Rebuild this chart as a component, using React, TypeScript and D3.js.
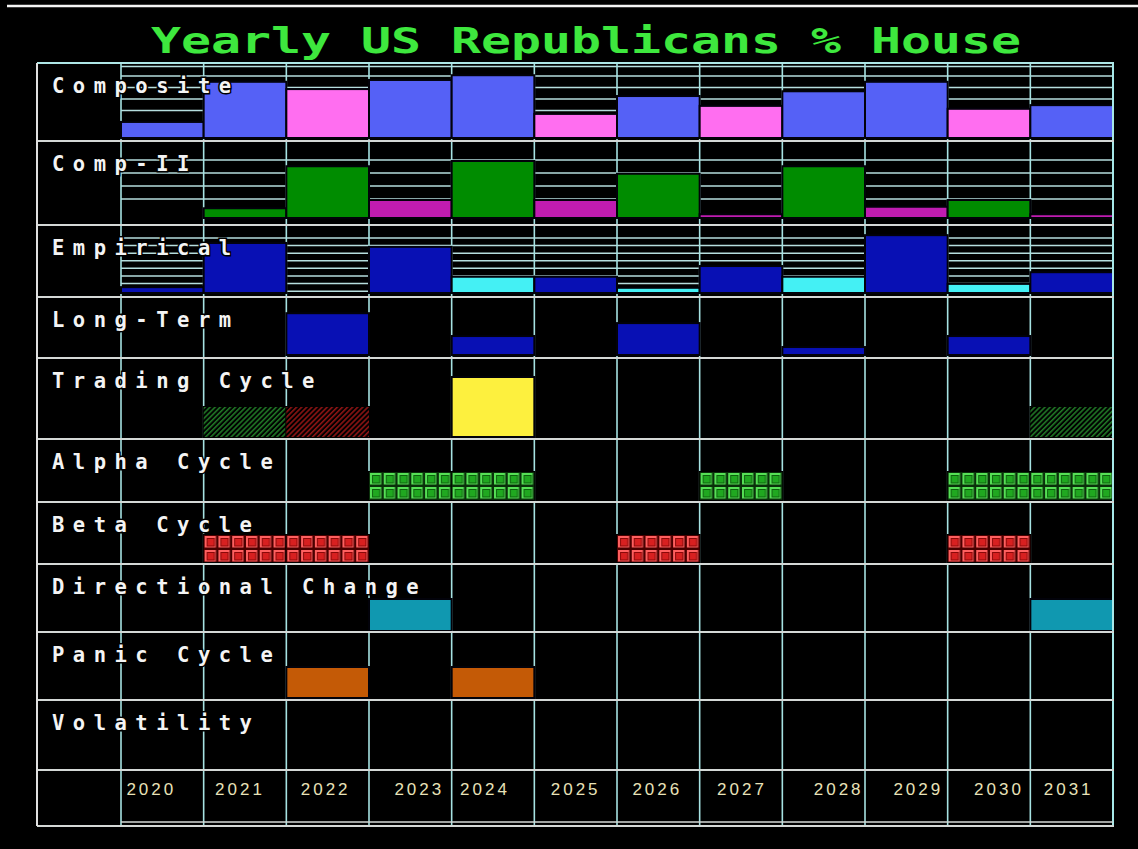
import React from 'react';
import * as d3 from 'd3';

const title = 'Yearly US Republicans % House';
const years = ['2020', '2021', '2022', '2023', '2024', '2025', '2026', '2027', '2028', '2029', '2030', '2031'];
const rowLabels = ['Composite', 'Comp-II', 'Empirical', 'Long-Term', 'Trading Cycle', 'Alpha Cycle', 'Beta Cycle', 'Directional Change', 'Panic Cycle', 'Volatility'];

const compositeValues = [22, 77, 67, 79.5, 86, 33, 57.5, 44, 64, 77, 40, 45];
const compositeSign = ['up', 'up', 'down', 'up', 'up', 'down', 'up', 'down', 'up', 'up', 'down', 'up'];
const compIIValues = [0, 13, 69, 24, 76, 24, 59, 5, 69, 15, 24, 5];
const compIISign = ['up', 'up', 'up', 'down', 'up', 'down', 'up', 'down', 'up', 'down', 'up', 'down'];
const empiricalValues = [9, 77, 0, 71, 25, 25, 8, 41.5, 25, 89, 14, 32];
const empiricalSign = ['up', 'up', 'up', 'up', 'down', 'up', 'down', 'up', 'down', 'up', 'down', 'up'];
const longTermValues = [0, 0, 76, 0, 34.5, 0, 58, 0, 14.5, 0, 34.5, 0];
const tradingValues = [0, 1, 1, 0, 2, 0, 0, 0, 0, 0, 0, 1];
const tradingKinds = ['none', 'bull', 'bear', 'none', 'peak', 'none', 'none', 'none', 'none', 'none', 'none', 'bull'];
const alphaValues = [0, 0, 0, 1, 1, 0, 0, 1, 0, 0, 1, 1];
const betaValues = [0, 1, 1, 0, 0, 0, 1, 0, 0, 0, 1, 0];
const directionalValues = [0, 0, 0, 1, 0, 0, 0, 0, 0, 0, 0, 1];
const panicValues = [0, 0, 1, 0, 1, 0, 0, 0, 0, 0, 0, 0];
const volatilityValues = [0, 0, 0, 0, 0, 0, 0, 0, 0, 0, 0, 0];

// layout (not data)
const W = 1138, H = 849;
const TL = 37, PL = 121, PR = 1113;
const rowEdges = [63, 141, 225, 297, 358, 439, 502, 564, 632, 700, 770, 826];
const barRange: [number, number][] = [[138, 65], [218, 143], [293, 228], [355, 300], [437, 377], [500, 472], [562, 535], [631, 599], [698, 667], [767, 735]];
const domainMax = [100, 100, 100, 100, 2, 1, 1, 1, 1, 1];
const yearNudge = [-11, -5, -2, 9, -8, 0, -1, 1, 15, 12, 10, -3];

const compositeColor: Record<string, string> = { up: '#5561f6', down: '#ff6ef0' };
const compIIColor: Record<string, string> = { up: '#008c00', down: '#c01cb0' };
const empiricalColor: Record<string, string> = { up: '#0810b4', down: '#44f0f4' };
const tradingFill: Record<string, string> = { bull: 'url(#hatchG)', bear: 'url(#hatchR)', peak: '#fdf03e', none: 'none' };

export default function App() {
  const x = d3.scaleBand<string>().domain(years).range([PL, PR]).padding(0);
  const step = x.step();
  const scales = barRange.map((r, i) => d3.scaleLinear().domain([0, domainMax[i]]).range(r));

  const series = [
    { values: compositeValues, fill: (i: number) => compositeColor[compositeSign[i]], grid: d3.range(6.2, 90, 15.75) },
    { values: compIIValues, fill: (i: number) => compIIColor[compIISign[i]], grid: d3.range(25.3, 80, 17.33) },
    { values: empiricalValues, fill: (i: number) => empiricalColor[empiricalSign[i]], grid: d3.range(2.8, 90, 11.7) },
    { values: longTermValues, fill: () => '#0810b4', grid: [] as number[] },
    { values: tradingValues, fill: (i: number) => tradingFill[tradingKinds[i]], grid: [] as number[] },
    { values: alphaValues, fill: () => 'url(#brickG)', grid: [] as number[] },
    { values: betaValues, fill: () => 'url(#brickR)', grid: [] as number[] },
    { values: directionalValues, fill: () => '#1098b0', grid: [] as number[] },
    { values: panicValues, fill: () => '#c45a06', grid: [] as number[] },
    { values: volatilityValues, fill: () => '#888888', grid: [] as number[] },
  ];

  const tw = step / 6;
  const alphaTop = scales[5](1);
  const betaTop = scales[6](1);

  const brick = (id: string, y0: number, bg: string, frame: string, dark: string, mid: string) => (
    <pattern id={id} patternUnits="userSpaceOnUse" x={PL} y={y0} width={tw} height={14}>
      <rect width={tw} height={14} fill={bg} />
      <rect x={1} y={1} width={tw - 2.5} height={11.5} fill={frame} />
      <rect x={3} y={3} width={tw - 5.5} height={8.5} fill={dark} />
      <rect x={4} y={4} width={tw - 7.5} height={6.5} fill={mid} />
    </pattern>
  );

  return (
    <div style={{ position: 'fixed', left: 0, top: 0 }}>
      <svg width={W} height={H} style={{ display: 'block', background: '#000' }}>
        <defs>
          <pattern id="hatchG" patternUnits="userSpaceOnUse" width={3.6} height={3.6} patternTransform="rotate(45)">
            <rect width={3.6} height={3.6} fill="#000" />
            <line x1={0.8} y1={0} x2={0.8} y2={3.6} stroke="#23862a" strokeWidth={1.4} />
          </pattern>
          <pattern id="hatchR" patternUnits="userSpaceOnUse" width={3.6} height={3.6} patternTransform="rotate(45)">
            <rect width={3.6} height={3.6} fill="#000" />
            <line x1={0.8} y1={0} x2={0.8} y2={3.6} stroke="#a01616" strokeWidth={1.4} />
          </pattern>
          {brick('brickG', alphaTop, '#0a300a', '#56e056', '#0d600d', '#20a820')}
          {brick('brickR', betaTop, '#4a0000', '#ff6060', '#8a0808', '#d82020')}
        </defs>
        <rect width={W} height={H} fill="#000" />
        <line x1={7} x2={W} y1={6} y2={6} stroke="#f4f4f4" strokeWidth={2.5} />

        <text x={151} y={53} fill="#3ee83e" fontFamily="'DejaVu Sans Mono', monospace" fontWeight="bold" fontSize={35}
          textLength={870} lengthAdjust="spacingAndGlyphs">{title}</text>

        {/* inner horizontal grid lines */}
        {series.map((s, r) => s.grid.map((g, k) => (
          <line key={`g${r}-${k}`} x1={PL} x2={PR} y1={scales[r](g)} y2={scales[r](g)} stroke="#b6dede" strokeWidth={1.5} />
        )))}
        <line x1={PL} x2={PR} y1={66.5} y2={66.5} stroke="#b6dede" strokeWidth={1.5} />

        {/* vertical lines */}
        {years.map((y) => (
          <line key={`v${y}`} x1={x(y)} x2={x(y)} y1={rowEdges[0]} y2={rowEdges[rowEdges.length - 1]} stroke="#a6e2e2" strokeWidth={1.6} />
        ))}

        {/* bars */}
        {series.map((s, r) => s.values.map((v, i) => {
          if (!v) return null;
          const sc = scales[r];
          const y0 = sc(0), y1 = sc(v);
          const fill = s.fill(i);
          const isPattern = fill.startsWith('url');
          return (
            <g key={`b${r}-${i}`}>
              {isPattern && <rect x={x(years[i])} y={y1} width={step} height={y0 - y1} fill="#000" stroke="#000" strokeWidth={2} />}
              <rect x={x(years[i])} y={y1} width={step} height={y0 - y1} fill={fill}
                stroke={isPattern ? 'none' : '#02020a'} strokeWidth={isPattern ? 0 : 2} />
            </g>
          );
        }))}

        {/* right border */}
        <line x1={PR} x2={PR} y1={rowEdges[0]} y2={rowEdges[rowEdges.length - 1]} stroke="#a6e8e8" strokeWidth={2} />
        {/* row separators */}
        {rowEdges.map((e, k) => (
          <line key={`h${k}`} x1={TL} x2={PR + 1} y1={e} y2={e}
            stroke={k === 0 ? '#aee6e6' : '#d4d8d6'} strokeWidth={2} />
        ))}
        <line x1={PL} x2={PR} y1={822} y2={822} stroke="#d4d8d6" strokeWidth={1.6} />
        <line x1={TL} x2={TL} y1={rowEdges[0]} y2={rowEdges[rowEdges.length - 1]} stroke="#e0e0e0" strokeWidth={2} />

        {/* row labels */}
        {rowLabels.map((l, k) => (
          <text key={`l${k}`} x={52} y={rowEdges[k] + 30} fill="#f4f4f4" fontFamily="'DejaVu Sans Mono', monospace"
            fontWeight="bold" fontSize={20.5} letterSpacing={8.5} stroke="#000" strokeWidth={3} paintOrder="stroke"
            style={{ whiteSpace: 'pre' }}>{l}</text>
        ))}

        {/* year labels */}
        {years.map((y, i) => (
          <text key={`y${y}`} x={(x(y) as number) + step / 2 + yearNudge[i]} y={795} textAnchor="middle" fill="#e8e2b8"
            fontFamily="'Liberation Sans', Arial, sans-serif" fontSize={17} letterSpacing={3}>{y}</text>
        ))}
      </svg>
    </div>
  );
}
